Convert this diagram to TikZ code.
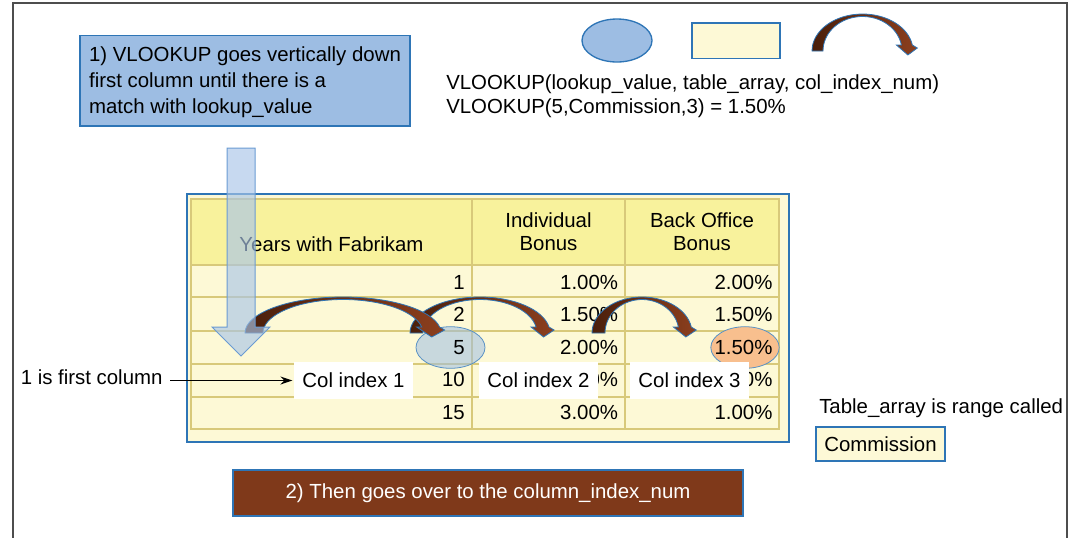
\documentclass[tikz,border=0pt]{standalone}
\usepackage{fontspec}
\setmainfont{Liberation Sans}
\usetikzlibrary{arrows.meta}
\definecolor{bfill}{HTML}{9DBDE3}
\definecolor{bbord}{HTML}{2E75B6}
\definecolor{hdr}{HTML}{F8F29C}
\definecolor{cell}{HTML}{FDF9D6}
\definecolor{gridc}{HTML}{D8C97A}
\definecolor{brdark}{HTML}{4A1F0B}
\definecolor{brlight}{HTML}{8C3F1E}
\definecolor{brbox}{HTML}{7F391A}
\definecolor{orng}{HTML}{F8BF8E}
\definecolor{framec}{HTML}{4D4D4D}
\definecolor{darr}{HTML}{A9C5E8}
\definecolor{darrb}{HTML}{6A9BD3}
\tikzset{
  txt/.style={font=\fontsize{15.3}{19.6}\selectfont, inner sep=0pt, text=black},
  bluebox/.style={draw=bbord, fill=bfill, line width=1pt},
  yelbox/.style={draw=bbord, fill=cell, line width=1pt},
  cellv/.style={txt, anchor=base east},
  hdrtxt/.style={txt, anchor=base},
  lbl/.style={txt, fill=white, minimum width=89.25pt, minimum height=27.75pt},
  gridline/.style={draw=gridc, line width=1.5pt},
  brarr/.style={left color=brdark, right color=brlight, draw=bbord, line width=0.6pt},
  conn/.style={-{Stealth[length=9pt,width=6pt]}, line width=1pt, shorten <=5.5pt, shorten >=1pt},
}
\newcommand{\brarrow}[5]{%
  \pgfmathsetmacro{\baO}{asin(6/#5)}%
  \pgfmathsetmacro{\baI}{asin(6/(#5-2.5))}%
  \pgfmathsetmacro{\bxo}{#1+#3*cos(\baO)}%
  \pgfmathsetmacro{\bxi}{#1+#4*cos(\baI)}%
  \pgfmathsetmacro{\bxt}{(\bxo+\bxi)/2+1}%
  \shadedraw[brarr]
    (#1-#3,#2) arc[start angle=180, end angle={360-\baO}, x radius=#3, y radius=#5]
    -- (\bxo+5,#2-3) -- (\bxt,#2+4) -- (\bxi-5,#2-6) -- (\bxi,#2-6)
    arc[start angle={360-\baI}, end angle=180, x radius=#4, y radius={#5-2.5}]
    -- cycle;
}
\begin{document}
\begin{tikzpicture}[x=0.75pt,y=-0.75pt]
\useasboundingbox (0,0) rectangle (1077,537);
\draw[draw=framec, line width=1.5pt] (12.5,540) -- (12.5,3) -- (1066.5,3) -- (1066.5,540);

% step 1 box
\node[bluebox, txt, align=left, minimum width=247.5pt, minimum height=67.9pt] (step1) at (245,80.75)
  {\rule{0pt}{13.8pt}1) VLOOKUP goes vertically down\\first column until there is a\\match with lookup\_value};

% formula
\node[txt, anchor=base west] (f1) at (446,89.5) {VLOOKUP(lookup\_value, table\_array, col\_index\_num)};
\node[txt, anchor=base west] (f2) at (446,113.5) {VLOOKUP(5,Commission,3) = 1.50\%};

% legend
\filldraw[bluebox] (617,40.5) ellipse [x radius=35, y radius=21.5];
\filldraw[yelbox] (692,23) rectangle (780,58.5);
\brarrow{862.5}{51}{50.5}{39.5}{37}

% table
\filldraw[fill=cell, draw=bbord, line width=1pt] (187,194) rectangle (789,442);
\fill[hdr] (191,199) rectangle (779,265);
\draw[gridline] (191,199) rectangle (779,429);
\foreach \yy in {265,297,331,364,397} \draw[gridline] (191,\yy) -- (779,\yy);
\foreach \xx in {472,625} \draw[gridline] (\xx,199) -- (\xx,429);

\filldraw[fill=orng, draw=bbord!80, line width=0.6pt] (745,347.5) ellipse [x radius=34.2, y radius=20.8];
\filldraw[fill=bfill, fill opacity=0.55, draw=bbord!80, line width=0.6pt] (450.5,347.5) ellipse [x radius=34.5, y radius=20.8];

\node[hdrtxt] (h1) at (331.5,251) {Years with Fabrikam};
\node[hdrtxt] (h2a) at (548.5,227.3) {Individual};
\node[hdrtxt] (h2b) at (548.5,250.7) {Bonus};
\node[hdrtxt] (h3a) at (702,227.3) {Back Office};
\node[hdrtxt] (h3b) at (702,250.7) {Bonus};

\node[cellv] (r1a) at (465,289.3) {1};
\node[cellv] (r1b) at (618.3,289.3) {1.00\%};
\node[cellv] (r1c) at (772.7,289.3) {2.00\%};
\node[cellv] (r2a) at (465,321.7) {2};
\node[cellv] (r2b) at (618.3,321.7) {1.50\%};
\node[cellv] (r2c) at (772.7,321.7) {1.50\%};
\node[cellv] (r3a) at (465,354) {5};
\node[cellv] (r3b) at (618.3,354) {2.00\%};
\node[cellv] (r3c) at (772.7,354) {1.50\%};
\node[cellv] (r4a) at (465,386.7) {10};
\node[cellv] (r4b) at (618.3,386.7) {0\%};
\node[cellv] (r4c) at (772.7,386.7) {0\%};
\node[cellv] (r5a) at (465,419.3) {15};
\node[cellv] (r5b) at (618.3,419.3) {3.00\%};
\node[cellv] (r5c) at (772.7,419.3) {1.00\%};

% curved arrows
\brarrow{480}{333}{70}{57}{36}
\brarrow{642}{333}{50}{37}{36}
\brarrow{343}{333}{98}{80}{36}

% down arrow
\filldraw[fill=darr, fill opacity=0.65, draw=darrb, line width=0.75pt]
  (227,148) -- (255,148) -- (255,327) -- (270,327) -- (241,356) -- (212,327) -- (227,327) -- cycle;

% col index labels
\node[lbl] (ci1) at (353.5,380.5) {Col index 1};
\node[lbl] (ci2) at (538.5,380.5) {Col index 2};
\node[lbl] (ci3) at (689.5,380.5) {Col index 3};

\node[txt, anchor=base west] (first) at (20.5,384.8) {1 is first column};
\draw[conn] (first.east |- ci1.west) -- (ci1.west);

% step 2 box
\node[txt, fill=brbox, draw=bbord, line width=0.8pt, text=white, minimum width=382.5pt, minimum height=34.5pt] (step2) at (488,493)
  {2) Then goes over to the column\_index\_num};

% table_array note
\node[txt, anchor=base west] (tnote) at (819,413.3) {Table\_array is range called};
\node[txt, yelbox, minimum width=96.75pt, minimum height=25.5pt] (comm) at (880.5,444) {Commission};
\end{tikzpicture}
\end{document}
